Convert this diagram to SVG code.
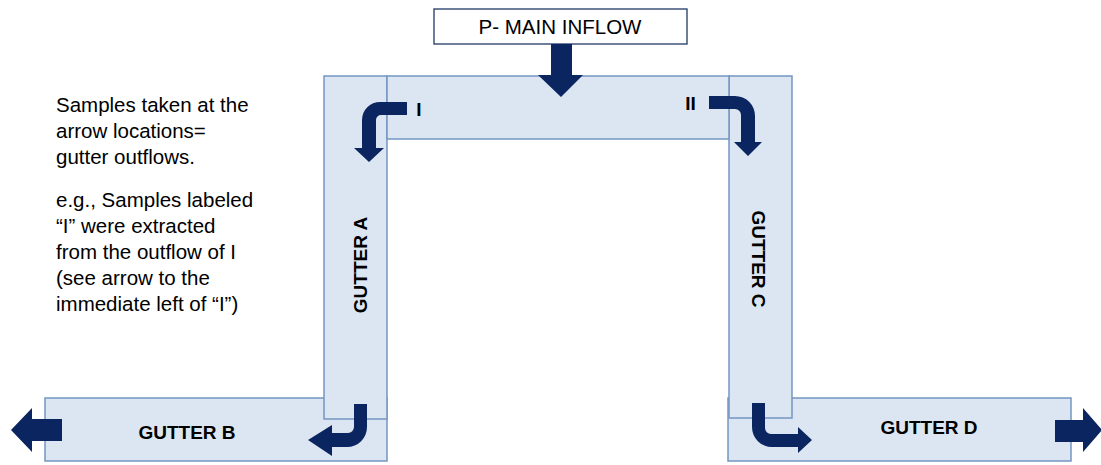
<svg xmlns="http://www.w3.org/2000/svg" width="1101" height="465" viewBox="0 0 1101 465">
<style>
.gut{fill:#DCE6F2;stroke:#7396C2;stroke-width:1.5}
.arr{fill:#0B2560}
.lbl{font-family:"Liberation Sans",Arial,sans-serif;font-weight:bold;font-size:19px;fill:#000}
.txt{font-family:"Liberation Sans",Arial,sans-serif;font-size:20.5px;fill:#000}
</style>
<rect width="1101" height="465" fill="#fff"/>
<g id="gutter-b">
<rect class="gut" x="45" y="398" width="342" height="63"/>
<text class="lbl" x="187" y="439" text-anchor="middle">GUTTER B</text>
</g>
<g id="gutter-d">
<rect class="gut" x="728" y="398" width="343" height="63"/>
<text class="lbl" x="929" y="434" text-anchor="middle">GUTTER D</text>
</g>
<g id="gutter-a">
<rect class="gut" x="324" y="76" width="63" height="343"/>
<text class="lbl" transform="translate(367,265) rotate(-90)" text-anchor="middle">GUTTER A</text>
</g>
<g id="gutter-c">
<rect class="gut" x="729" y="76" width="63" height="342"/>
<text class="lbl" transform="translate(752,259) rotate(90)" text-anchor="middle">GUTTER C</text>
</g>
<g id="top-gutter">
<rect class="gut" x="387" y="76" width="342" height="63"/>
<text class="lbl" x="419" y="116" text-anchor="middle">I</text>
<text class="lbl" x="690.5" y="110" text-anchor="middle">II</text>
</g>
<g id="main-inflow">
<rect x="434" y="9" width="253" height="35" fill="#fff" stroke="#1F3864" stroke-width="1.3"/>
<text class="txt" x="560" y="34" text-anchor="middle">P- MAIN INFLOW</text>
</g>
<g id="notes">
<text class="txt" x="56" y="112">Samples taken at the</text>
<text class="txt" x="56" y="138">arrow locations=</text>
<text class="txt" x="56" y="164">gutter outflows.</text>
<text class="txt" x="56" y="207">e.g., Samples labeled</text>
<text class="txt" x="56" y="233">“I” were extracted</text>
<text class="txt" x="56" y="259">from the outflow of I</text>
<text class="txt" x="56" y="285">(see arrow to the</text>
<text class="txt" x="56" y="311">immediate left of “I”)</text>
</g>
<g id="connectors">
<path class="arr" d="M551 44 L572 44 L572 75 L583 75 L561 97 L538 75 L551 75 Z"/>
<path class="arr" d="M407 102 L380 102 A18 18 0 0 0 362 120 L362 148 L354 148 L369 162 L384 148 L376 148 L376 120 A5 5 0 0 1 381 115 L407 115 Z"/>
<path class="arr" d="M709 96 L735 96 A20 20 0 0 1 755 116 L755 142 L762 142 L748 156 L734 142 L741 142 L741 115 A6 6 0 0 0 735 109 L709 109 Z"/>
<path class="arr" d="M354 404 L367 404 L367 427 A20 20 0 0 1 347 447 L332 447 L332 456 L308 440 L332 425 L332 433 L348 433 A6 6 0 0 0 354 427 Z"/>
<path class="arr" d="M752 403 L765 403 L765 428 A6 6 0 0 0 771 434 L798 434 L798 427 L812 440 L798 453 L798 447 L772 447 A20 20 0 0 1 752 427 Z"/>
<path class="arr" d="M62 419 L62 441 L32 441 L32 452 L11 430 L32 408 L32 419 Z"/>
<path class="arr" d="M1055 420 L1083 420 L1083 408 L1102 430 L1083 452 L1083 442 L1055 442 Z"/>
</g>
</svg>
